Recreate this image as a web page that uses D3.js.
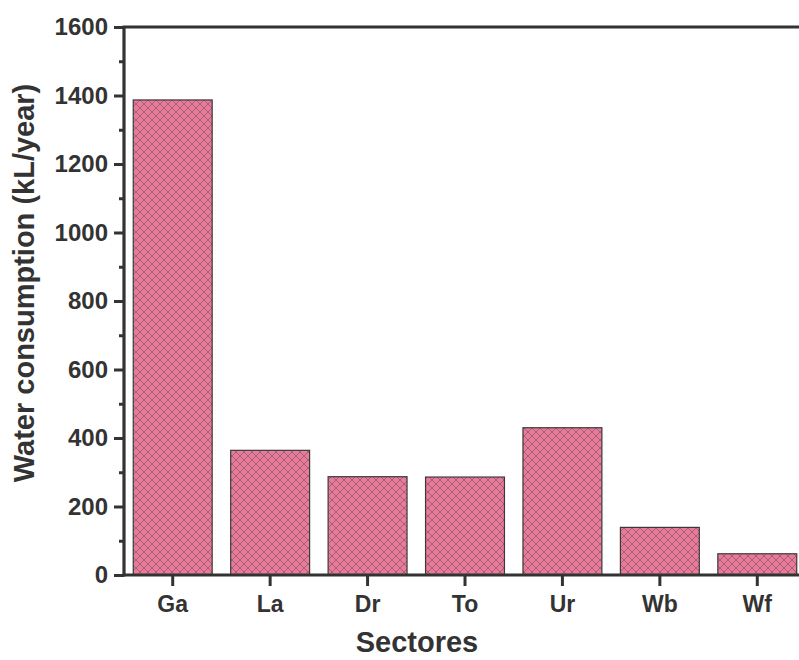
<!DOCTYPE html>
<html><head><meta charset="utf-8">
<script src="https://cdn.jsdelivr.net/npm/d3@7"></script>
<style>body{margin:0;background:#fff;overflow:hidden}svg{display:block}</style>
</head><body>
<script>
const categories = ["Ga","La","Dr","To","Ur","Wb","Wf"];
const values = [1387, 364, 287, 286, 430, 139, 62];
const yTicks = [0,200,400,600,800,1000,1200,1400,1600];
const yMinorTicks = [100,300,500,700,900,1100,1300,1500];

const W = 799, H = 660;
const m = {left:124, top:27, right:806, bottom:575};
const svg = d3.select("body").append("svg").attr("width",W).attr("height",H);
const defs = svg.append("defs");
const pat = defs.append("pattern").attr("id","hatch").attr("patternUnits","userSpaceOnUse")
  .attr("width",8).attr("height",8);
pat.append("rect").attr("width",8).attr("height",8).attr("fill","#e97a99");
pat.append("path").attr("d","M0,0L8,8M8,0L0,8M-1,7L1,9M7,-1L9,1M-1,1L1,-1M7,9L9,7")
  .attr("stroke","#74505e").attr("stroke-width",0.8).attr("opacity",0.75);

const x = d3.scaleBand().domain(categories).range([m.left, m.right]).paddingInner(0.19).paddingOuter(0.095);
const y = d3.scaleLinear().domain([0,1600]).range([m.bottom, m.top]);

svg.selectAll("rect.bar").data(values).enter().append("rect").attr("class","bar")
  .attr("x",(d,i)=>x(categories[i])).attr("width",x.bandwidth())
  .attr("y",d=>y(d)).attr("height",d=>y(0)-y(d))
  .attr("fill","url(#hatch)").attr("stroke","#3a3a3a").attr("stroke-width",1.2);

const font = "'Liberation Sans', Arial, sans-serif";
const yAxis = svg.append("g").attr("transform",`translate(${m.left},0)`)
  .call(d3.axisLeft(y).tickValues(yTicks).tickSize(10).tickPadding(6).tickFormat(d3.format("d")));
const yMinor = svg.append("g").attr("transform",`translate(${m.left},0)`)
  .call(d3.axisLeft(y).tickValues(yMinorTicks).tickSize(5).tickFormat(""));
yMinor.select(".domain").remove();
const xAxis = svg.append("g").attr("transform",`translate(0,${m.bottom})`)
  .call(d3.axisBottom(x).tickSize(11).tickPadding(10).tickSizeOuter(0));
[yAxis,yMinor,xAxis].forEach(g=>{
  g.selectAll("line").attr("stroke","#333").attr("stroke-width",3);
  g.select(".domain").attr("stroke","#333").attr("stroke-width",3.2);
  g.selectAll("text").attr("font-family",font).attr("font-weight","bold").attr("fill","#333");
});
yAxis.selectAll("text").attr("font-size",24);
xAxis.selectAll("text").attr("font-size",23);
yAxis.select(".domain").attr("d",`M0,${m.bottom+1.5}V${m.top}`);
xAxis.select(".domain").attr("d",`M${m.left-1.5},0H${m.right}`);
svg.append("line").attr("x1",m.left-1.5).attr("x2",m.right).attr("y1",m.top).attr("y2",m.top)
  .attr("stroke","#333").attr("stroke-width",3.2);

svg.append("text").attr("x",417).attr("y",652).attr("text-anchor","middle")
  .attr("font-family",font).attr("font-weight","bold").attr("font-size",29).attr("fill","#333").text("Sectores");
svg.append("text").attr("transform","translate(34,283) rotate(-90)").attr("text-anchor","middle")
  .attr("font-family",font).attr("font-weight","bold").attr("font-size",29).attr("fill","#333")
  .text("Water consumption (kL/year)");
</script>
</body></html>
